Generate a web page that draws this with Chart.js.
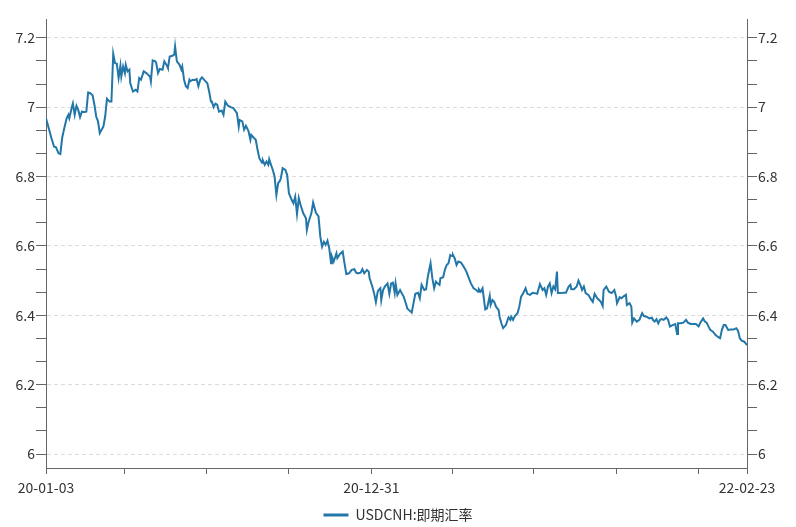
<!DOCTYPE html>
<html>
<head>
<meta charset="utf-8">
<script src="https://cdn.jsdelivr.net/npm/chart.js@4"></script>
<style>
  html, body { margin: 0; padding: 0; background: #fff; }
  #chart { display: block; }
</style>
</head>
<body>
<canvas id="chart" width="796" height="527"></canvas>
<script>
// days after 2020-01-03
const days = [
  0, 3, 6, 9, 11, 14, 16, 18, 20, 23, 25, 26, 29, 30, 32, 34, 36, 38, 40, 43,
  45, 47, 49, 52, 54, 56, 58, 60, 62, 64, 66, 68, 71, 73, 75, 77, 79, 81, 83, 84,
  86, 88, 89, 91, 93, 94, 97, 100, 102, 104, 106, 109, 112, 114, 116, 117, 119, 122, 123, 125,
  127, 130, 132, 135, 136, 138, 141, 143, 144, 146, 149, 151, 152, 154, 156, 158, 160, 161, 164, 166,
  168, 170, 172, 174, 177, 180, 182, 184, 185, 187, 189, 191, 193, 196, 198, 200, 203, 206, 209, 213,
  215, 216, 219, 221, 223, 226, 228, 229, 232, 234, 236, 238, 241, 242, 244, 246, 248, 249, 251, 253,
  255, 257, 259, 261, 262, 264, 267, 269, 271, 274, 276, 278, 280, 282, 284, 287, 290, 291, 293, 296,
  298, 301, 304, 306, 308, 310, 312, 314, 316, 318, 319, 321, 324, 325, 328, 331, 333, 335, 338, 341,
  344, 346, 348, 351, 353, 355, 358, 360, 361, 364, 366, 368, 370, 371, 373, 374, 376, 378, 381, 383,
  385, 387, 389, 390, 392, 395, 397, 399, 402, 403, 405, 408, 410, 412, 415, 417, 419, 422, 424, 426,
  429, 431, 433, 435, 436, 439, 440, 443, 445, 447, 449, 451, 453, 454, 456, 458, 460, 463, 466, 469,
  471, 474, 477, 480, 482, 483, 485, 487, 490, 492, 495, 496, 498, 500, 502, 505, 506, 508, 510, 513,
  516, 518, 519, 521, 523, 526, 528, 530, 532, 535, 537, 540, 543, 545, 548, 551, 554, 556, 558, 560,
  562, 564, 566, 568, 570, 571, 574, 577, 580, 583, 585, 586, 589, 592, 594, 596, 598, 600, 602, 605,
  608, 610, 612, 615, 617, 619, 621, 622, 625, 628, 631, 634, 636, 637, 640, 642, 644, 647, 648, 651,
  653, 654, 656, 659, 662, 665, 667, 670, 673, 676, 677, 679, 681, 683, 685, 687, 689, 692, 694, 696,
  699, 702, 704, 705, 708, 711, 714, 716, 719, 722, 725, 728, 730, 733, 735, 737, 739, 741, 744, 747,
  750, 752, 754, 756, 758, 761, 764, 767, 770, 772, 774, 776, 779, 782
];

// USDCNH spot rate
const rates = [
  6.968, 6.940, 6.911, 6.886, 6.885, 6.867, 6.865, 6.911, 6.935, 6.968, 6.978, 6.968, 7.002, 7.011, 6.978, 7.004, 6.992, 6.971, 6.987, 6.986,
  6.987, 7.042, 7.041, 7.034, 7.007, 6.973, 6.959, 6.925, 6.935, 6.944, 6.973, 7.024, 7.016, 7.016, 7.154, 7.127, 7.125, 7.084, 7.119, 7.088,
  7.117, 7.098, 7.122, 7.103, 7.108, 7.069, 7.045, 7.050, 7.045, 7.084, 7.079, 7.103, 7.098, 7.093, 7.088, 7.074, 7.135, 7.132, 7.127, 7.098,
  7.110, 7.108, 7.132, 7.119, 7.113, 7.146, 7.148, 7.151, 7.175, 7.132, 7.122, 7.108, 7.117, 7.079, 7.060, 7.055, 7.079, 7.075, 7.079, 7.078,
  7.081, 7.060, 7.079, 7.086, 7.077, 7.069, 7.045, 7.016, 7.016, 7.000, 7.010, 7.007, 6.987, 6.990, 6.978, 7.016, 7.004, 7.000, 6.997, 6.983,
  6.944, 6.963, 6.959, 6.935, 6.946, 6.930, 6.906, 6.920, 6.911, 6.906, 6.877, 6.853, 6.840, 6.846, 6.834, 6.843, 6.834, 6.850, 6.834, 6.819,
  6.800, 6.747, 6.781, 6.788, 6.795, 6.824, 6.819, 6.805, 6.752, 6.733, 6.723, 6.742, 6.692, 6.738, 6.718, 6.694, 6.680, 6.646, 6.670, 6.694,
  6.725, 6.696, 6.685, 6.627, 6.598, 6.612, 6.603, 6.615, 6.593, 6.550, 6.569, 6.555, 6.579, 6.565, 6.577, 6.584, 6.550, 6.519, 6.521, 6.531,
  6.533, 6.523, 6.521, 6.523, 6.533, 6.521, 6.531, 6.526, 6.507, 6.483, 6.464, 6.438, 6.468, 6.473, 6.478, 6.444, 6.473, 6.483, 6.492, 6.462,
  6.492, 6.494, 6.465, 6.492, 6.459, 6.473, 6.463, 6.454, 6.430, 6.420, 6.415, 6.408, 6.435, 6.462, 6.465, 6.449, 6.488, 6.473, 6.475, 6.512,
  6.550, 6.507, 6.478, 6.497, 6.494, 6.488, 6.507, 6.510, 6.531, 6.545, 6.550, 6.574, 6.571, 6.574, 6.564, 6.545, 6.555, 6.552, 6.540, 6.526,
  6.512, 6.492, 6.478, 6.473, 6.468, 6.475, 6.468, 6.478, 6.417, 6.420, 6.456, 6.430, 6.444, 6.439, 6.425, 6.415, 6.396, 6.377, 6.363, 6.372,
  6.394, 6.387, 6.396, 6.387, 6.398, 6.406, 6.425, 6.454, 6.462, 6.478, 6.462, 6.459, 6.465, 6.464, 6.462, 6.490, 6.473, 6.478, 6.459, 6.483,
  6.492, 6.464, 6.483, 6.475, 6.526, 6.464, 6.464, 6.465, 6.465, 6.483, 6.488, 6.475, 6.475, 6.483, 6.500, 6.488, 6.473, 6.483, 6.464, 6.459,
  6.446, 6.439, 6.462, 6.449, 6.444, 6.439, 6.427, 6.473, 6.483, 6.468, 6.464, 6.473, 6.454, 6.435, 6.452, 6.449, 6.454, 6.459, 6.430, 6.435,
  6.425, 6.379, 6.391, 6.382, 6.387, 6.406, 6.398, 6.396, 6.391, 6.393, 6.387, 6.382, 6.389, 6.377, 6.387, 6.389, 6.387, 6.394, 6.387, 6.368,
  6.372, 6.375, 6.346, 6.377, 6.377, 6.379, 6.387, 6.379, 6.375, 6.375, 6.375, 6.368, 6.379, 6.391, 6.382, 6.379, 6.368, 6.358, 6.353, 6.343,
  6.337, 6.334, 6.358, 6.372, 6.372, 6.358, 6.359, 6.359, 6.363, 6.356, 6.334, 6.327, 6.324, 6.314
];

// x axis: quarter-end tick marks, only three of them labelled
const xTickDays = [0, 88, 179, 271, 363, 453, 544, 636, 728, 782];
const xLabelDays = [0, 363, 782];
const xLabelText = ['20-01-03', '20-12-31', '22-02-23'];

// y axis: labelled values, with two unlabelled ticks between each
const yLabels = [6, 6.2, 6.4, 6.6, 6.8, 7, 7.2];
const yMin = 5.96, yMax = 7.254;

const lineColor = '#2277a8';
const axisColor = '#666';
const gridColor = '#dcdcdc';
const textColor = '#333';
const fontFamily = '"Noto Sans CJK SC", "Noto Sans", sans-serif';

const yTicks = [];
for (let i = 0; i < yLabels.length - 1; i++) {
  const a = yLabels[i], b = yLabels[i + 1];
  yTicks.push(a, a + (b - a) / 3, a + 2 * (b - a) / 3);
}
yTicks.push(yLabels[yLabels.length - 1]);

function yLabelOf(v) {
  const hit = yLabels.find(l => Math.abs(l - v) < 1e-6);
  return hit === undefined ? '' : String(hit);
}

function yAxis(position, width) {
  return {
    type: 'linear',
    position: position,
    min: yMin,
    max: yMax,
    afterBuildTicks: scale => { scale.ticks = yTicks.map(v => ({ value: v })); },
    afterFit: scale => { scale.width = width; },
    ticks: {
      autoSkip: false,
      padding: 1,
      color: textColor,
      font: { family: fontFamily, size: 14 },
      callback: v => yLabelOf(v)
    },
    grid: {
      drawOnChartArea: position === 'left',
      color: ctx => (ctx.tick && yLabelOf(ctx.tick.value) !== '') ? gridColor : 'rgba(0,0,0,0)',
      tickColor: axisColor,
      tickLength: 10
    },
    border: { color: axisColor, dash: [4, 3] }
  };
}

const points = days.map((d, i) => ({ x: d, y: rates[i] }));

new Chart(document.getElementById('chart'), {
  type: 'line',
  data: {
    datasets: [{
      label: 'USDCNH:即期汇率',
      data: points,
      borderColor: lineColor,
      backgroundColor: lineColor,
      borderWidth: 2,
      pointRadius: 0,
      tension: 0,
      yAxisID: 'y'
    }]
  },
  options: {
    responsive: false,
    animation: false,
    layout: { padding: { top: 19, left: 0, right: 0, bottom: 0 } },
    plugins: {
      tooltip: { enabled: false },
      legend: {
        position: 'bottom',
        maxHeight: 24,
        labels: {
          boxWidth: 25,
          boxHeight: 3,
          padding: 5,
          color: textColor,
          font: { family: fontFamily, size: 14 },
          generateLabels: chart => Chart.defaults.plugins.legend.labels.generateLabels(chart)
            .map(l => Object.assign(l, { lineWidth: 0 }))
        }
      }
    },
    scales: {
      x: {
        type: 'linear',
        min: 0,
        max: 782,
        afterBuildTicks: scale => { scale.ticks = xTickDays.map(v => ({ value: v })); },
        afterFit: scale => { scale.height = 35; },
        ticks: {
          autoSkip: false,
          maxRotation: 0,
          padding: 5,
          color: textColor,
          font: { family: fontFamily, size: 14 },
          callback: v => {
            const k = xLabelDays.indexOf(v);
            return k < 0 ? '' : xLabelText[k];
          }
        },
        grid: { drawOnChartArea: false, tickColor: axisColor, tickLength: 6 },
        border: { color: axisColor }
      },
      y: yAxis('left', 46),
      y2: yAxis('right', 49)
    }
  }
});
</script>
</body>
</html>
